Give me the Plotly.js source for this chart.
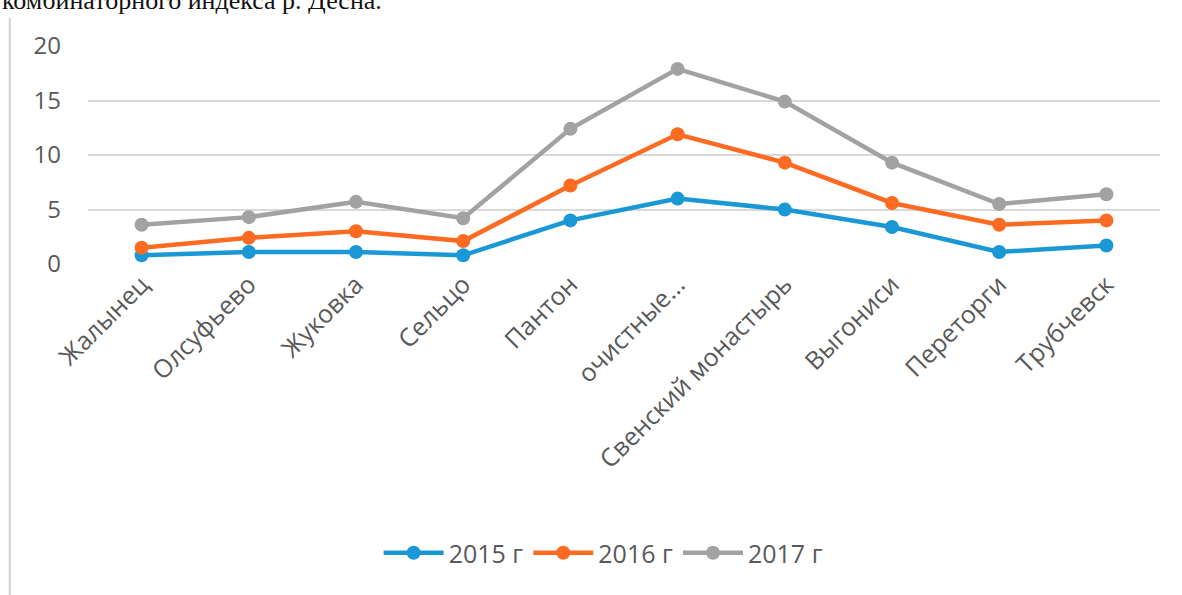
<!DOCTYPE html>
<html><head><meta charset="utf-8">
<script src="https://cdn.plot.ly/plotly-3.0.1.min.js"></script>
<style>html,body{margin:0;padding:0;background:#fff;}#c{width:1182px;height:595px;}</style>
</head><body><div id="c"></div>
<script>
const categories = ["Жалынец","Олсуфьево","Жуковка","Сельцо","Пантон","очистные...","Свенский монастырь","Выгониси","Переторги","Трубчевск"];
const seriesNames = ["2015 г","2016 г","2017 г"];
const v2015 = [0.8, 1.1, 1.1, 0.8, 4.0, 6.0, 5.0, 3.4, 1.1, 1.7];
const v2016 = [1.5, 2.4, 3.0, 2.1, 7.2, 11.9, 9.3, 5.6, 3.6, 4.0];
const v2017 = [3.6, 4.3, 5.7, 4.2, 12.4, 17.9, 14.9, 9.3, 5.5, 6.4];
const yTicks = [0, 5, 10, 15, 20];
const colors = ["#1a98d5", "#fd6a21", "#a2a2a2"];
const vals = [v2015, v2016, v2017];
const traces = vals.map((v, i) => ({
  x: categories, y: v, name: seriesNames[i], type: "scatter", mode: "lines+markers",
  line: {color: colors[i], width: 4.5}, marker: {color: colors[i], size: 14}
}));
const layout = {
  width: 1182, height: 595,
  margin: {l: 88, r: 22, t: 46, b: 331},
  paper_bgcolor: "#fff", plot_bgcolor: "#fff",
  font: {family: "Open Sans, sans-serif", color: "#595959"},
  xaxis: {type: "category", tickangle: -45, showgrid: false, zeroline: false, showline: false,
          tickfont: {size: 25, color: "#595959"}, ticks: "", range: [-0.5, 9.5]},
  yaxis: {range: [0, 20], tickvals: yTicks, showgrid: true, gridcolor: "#d9d9d9", gridwidth: 2,
          zeroline: false, showline: false, tickfont: {size: 24, color: "#595959"}, ticks: "",
          ticklabelstandoff: 26},
  showlegend: true,
  legend: {orientation: "h", x: 0.481, xanchor: "center", y: -1.326, yanchor: "middle",
           font: {size: 25, color: "#595959"}, itemwidth: 60, traceorder: "normal"},
  shapes: [{type: "line", xref: "paper", yref: "paper", x0: -0.073, x1: -0.073, y0: 1.128, y1: -1.6,
            line: {color: "#d0d0d0", width: 2}}],
  annotations: [{xref: "paper", yref: "paper", x: -0.082, y: 1.135, xanchor: "left", yanchor: "bottom",
                 text: "комбинаторного индекса р. Десна.", showarrow: false,
                 font: {family: "Liberation Serif, serif", size: 26, color: "#111"}}]
};
Plotly.newPlot("c", traces, layout, {displayModeBar: false, staticPlot: true});
</script></body></html>
